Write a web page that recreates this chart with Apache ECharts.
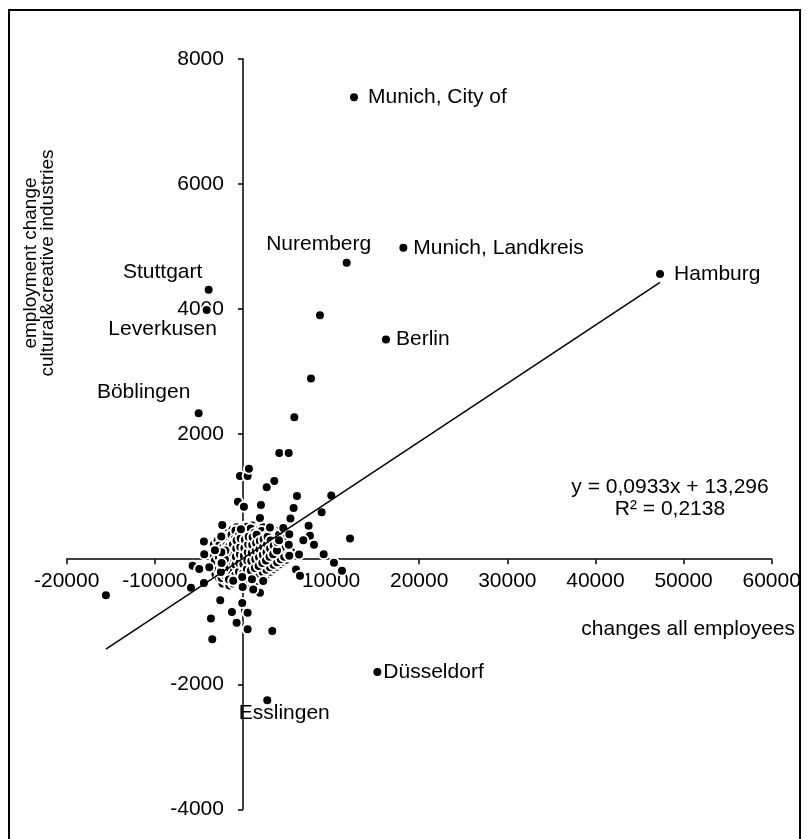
<!DOCTYPE html>
<html>
<head>
<meta charset="utf-8">
<title>employment change</title>
<script src="https://cdn.jsdelivr.net/npm/echarts@6/dist/echarts.min.js"></script>
<style>
  html, body { margin: 0; padding: 0; background: #fff; }
  #chart { width: 807px; height: 839px; }
</style>
</head>
<body>
<div id="chart"></div>
<script>
// axis ticks
const xTicks = { min: -20000, max: 60000, step: 10000 };
const yTicks = { min: -4000, max: 8000, step: 2000 };

// districts with a name on the chart: [x, y]
const cityNames = ["Munich, City of", "Munich, Landkreis", "Nuremberg", "Hamburg", "Stuttgart",
  "Leverkusen", "Berlin", "Böblingen", "Düsseldorf", "Esslingen"];
const cityValues = [[12600, 7390], [18200, 4980], [11770, 4740], [47330, 4560], [-3890, 4310],
  [-4120, 3985], [16230, 3515], [-5030, 2335], [15250, -1805], [2760, -2255]];

// the other districts: [changes all employees, employment change CCI]
const otherValues = [
  [8740, 3900], [7720, 2890], [5830, 2270], [4120, 1700], [5190, 1700], [-340, 1330], [530, 1330],
  [680, 1445], [3555, 1250], [2690, 1150], [6130, 1010], [10020, 1020], [-570, 920], [110, 840],
  [2040, 865], [1930, 660], [5750, 820], [8930, 750], [5390, 650], [-2350, 545], [-230, 480],
  [3065, 505], [4580, 500], [7450, 535], [7600, 375], [6850, 305], [5260, 400], [-2460, 365],
  [-4430, 285], [12150, 330], [8060, 230], [4090, 305], [-3180, 145], [-4390, 80], [6360, 75],
  [5260, 55], [9160, 80], [10330, -55], [11240, -185], [-5710, -105], [-4960, -155], [-3820, -130],
  [-4430, -380], [-5900, -455], [-2500, -205], [-2420, -60], [-1590, -325], [-1100, -345], [-80, -285],
  [1020, -320], [2300, -350], [1930, -535], [1170, -485], [-30, -445], [6020, -165], [6470, -265],
  [-2575, -655], [-1250, -845], [-720, -1015], [570, -1110], [230, -815], [-80, -700], [-3750, -940],
  [-3480, -1280], [3330, -1150], [530, -855], [530, -1120], [-3630, -950], [-15550, -575]
];

// the crowded middle, read roughly
const clusterValues = [
  [-3450, -120], [-3380, 60], [-3300, 230], [-3120, -240], [-3050, -70], [-2960, 130], [-2880, 300],
  [-2710, -300], [-2640, -160], [-2590, 30], [-2530, 190], [-2470, 340], [-2330, -390], [-2260, -230],
  [-2190, -80], [-2140, 80], [-2080, 250], [-2010, 410], [-1930, -340], [-1870, -190], [-1800, -30],
  [-1760, 130], [-1690, 300], [-1620, 440], [-1540, -420], [-1480, -260], [-1420, -110], [-1370, 40],
  [-1310, 170], [-1250, 320], [-1190, 470], [-1110, -390], [-1060, -280], [-990, -150], [-940, -20],
  [-880, 110], [-830, 260], [-770, 390], [-720, 510], [-650, -370], [-600, -240], [-540, -90],
  [-490, 40], [-430, 180], [-380, 310], [-310, 440], [-250, -410], [-190, -260], [-140, -120],
  [-90, 20], [-30, 140], [40, 280], [90, 400], [150, 520], [210, -360], [270, -200], [330, -70],
  [380, 60], [440, 200], [500, 330], [560, 460], [620, -390], [680, -250], [730, -110], [790, 30],
  [850, 160], [900, 300], [960, 420], [1030, 540], [1090, -330], [1150, -190], [1210, -40], [1260, 90],
  [1320, 220], [1380, 350], [1440, 480], [1500, -350], [1560, -200], [1620, -70], [1680, 60],
  [1740, 190], [1800, 330], [1860, 470], [1920, -300], [1990, -160], [2050, -10], [2110, 110],
  [2170, 250], [2230, 390], [2290, 510], [2350, -280], [2410, -130], [2470, 20], [2530, 150],
  [2590, 290], [2650, 430], [2720, -240], [2790, -90], [2850, 50], [2910, 190], [2970, 330],
  [3040, 470], [3110, -200], [3180, -50], [3240, 100], [3300, 240], [3370, 380], [3450, -160],
  [3520, -10], [3590, 140], [3660, 280], [3730, 430], [3820, -120], [3900, 30], [3970, 170],
  [4040, 320], [4110, 460], [4220, -80], [4300, 70], [4380, 210], [4450, 360], [4560, -40],
  [4640, 110], [4720, 250], [4800, 400], [4930, -10], [5010, 140], [5090, 290], [5250, 40],
  [5340, 190], [5480, 120],
  [-3200, -30], [-3150, 150], [-2800, -170], [-2750, 40], [-2700, 220], [-2420, -300], [-2380, -130],
  [-2300, 60], [-2230, 190], [-2000, -260], [-1960, -100], [-1900, 60], [-1850, 220], [-1800, 360],
  [-1580, -330], [-1520, -180], [-1460, -30], [-1400, 110], [-1350, 250], [-1290, 390], [-1150, -300],
  [-1090, -70], [-1030, 60], [-970, 190], [-910, 330], [-850, 460], [-700, -300], [-660, -160],
  [-620, -20], [-560, 110], [-510, 250], [-460, 380], [-300, -330], [-240, -180], [-180, -50],
  [-120, 80], [-70, 210], [-10, 340], [60, 460], [120, -290], [180, -140], [240, 0], [300, 130],
  [350, 270], [410, 400], [470, 520], [560, -320], [610, -170], [660, -40], [710, 100], [770, 230],
  [820, 360], [880, 490], [1000, -260], [1060, -120], [1110, 20], [1170, 150], [1230, 290], [1290, 420],
  [1420, -280], [1470, -140], [1530, 0], [1590, 130], [1650, 260], [1710, 400], [1830, -230],
  [1880, -90], [1940, 50], [2000, 180], [2060, 320], [2120, 450], [2260, -210], [2320, -60],
  [2380, 80], [2440, 220], [2500, 360], [2660, -170], [2720, -20], [2780, 120], [2840, 260],
  [2900, 400], [3060, -130], [3120, 20], [3180, 170], [3250, 310], [3310, 440], [3480, -90],
  [3550, 60], [3620, 210], [3690, 350], [3880, -50], [3950, 100], [4020, 240], [4090, 390],
  [4290, 0], [4360, 140], [4430, 290], [4680, 40], [4750, 180], [4850, 330], [5150, 80], [5200, 230],
  [-1700, -90], [-1650, 70], [-1600, 200], [-1300, -200], [-1250, -40], [-1200, 90], [-1150, 230],
  [-900, -260], [-850, -90], [-800, 40], [-760, 170], [-720, 300], [-450, -200], [-400, -60],
  [-350, 80], [-300, 200], [-260, 330], [0, -230], [50, -80], [100, 50], [160, 180], [220, 310],
  [450, -160], [500, -20], [550, 110], [600, 240], [650, 360], [900, -180], [950, -30], [1000, 100],
  [1050, 230], [1100, 350], [1350, -140], [1400, 0], [1450, 130], [1500, 260], [1550, 390],
  [1780, -110], [1830, 30], [1880, 160], [1920, 290], [2200, -60], [2250, 70], [2300, 200],
  [2350, 320], [2620, -20], [2680, 110], [2740, 240], [2800, 360], [3020, 40], [3080, 170],
  [3140, 300], [3430, 80], [3490, 220], [3860, 140], [3920, 270], [-2100, -150], [-2050, 0],
  [-2000, 140], [-2500, -60], [-2450, 110]
];

// linear trend (Excel)
const trendSlope = 0.0933;
const trendIntercept = 13.296;
const trendText = ["y = 0,0933x + 13,296", "R² = 0,2138"];

const font = "'Liberation Sans', Arial, sans-serif";

// label placement for each named district
const labelPlace = {
  "Munich, City of": { position: "right", distance: 8 },
  "Munich, Landkreis": { position: "right", distance: 4 },
  "Nuremberg": { position: "inside", offset: [-28, -19] },
  "Hamburg": { position: "right", distance: 8 },
  "Stuttgart": { position: "inside", offset: [-46, -18] },
  "Leverkusen": { position: "inside", offset: [-44, 19] },
  "Berlin": { position: "right", distance: 4 },
  "Böblingen": { position: "inside", offset: [-55, -21] },
  "Düsseldorf": { position: "right", distance: 0 },
  "Esslingen": { position: "inside", offset: [17, 13] },
};

const allX = cityValues.concat(otherValues, clusterValues).map((p) => p[0]);
const xLo = Math.min(...allX);
const xHi = Math.max(...allX);
const trendData = [xLo, xHi].map((x) => [x, trendSlope * x + trendIntercept]);

const cityData = cityNames.map((name, i) => ({
  name: name,
  value: cityValues[i],
  label: Object.assign({ show: true, formatter: name, color: "#000", fontSize: 21, fontFamily: font }, labelPlace[name]),
}));

// black dot with a white rim, like the Excel marker
const dotStyle = { color: "#000", borderColor: "#fff", borderWidth: 2, opacity: 1 };

// grid box; the axes are shifted onto the zero lines with offset
const gridLeft = 66.7, gridRight = 35.3, gridTop = 59, gridBottom = 29.7;
const plotW = 807 - gridLeft - gridRight;
const plotH = 839 - gridTop - gridBottom;
const yAxisShift = plotW * (0 - xTicks.min) / (xTicks.max - xTicks.min);
const xAxisShift = plotH * (0 - yTicks.min) / (yTicks.max - yTicks.min);

const chart = echarts.init(document.getElementById("chart"));
chart.setOption({
  animation: false,
  backgroundColor: "#fff",
  grid: { left: gridLeft, right: gridRight, top: gridTop, bottom: gridBottom, outerBoundsMode: "none" },
  xAxis: {
    type: "value",
    min: xTicks.min,
    max: xTicks.max,
    interval: xTicks.step,
    offset: -xAxisShift,
    splitLine: { show: false },
    axisLine: { onZero: false, lineStyle: { color: "#000", width: 1.5 } },
    axisTick: { show: true, length: 5, lineStyle: { color: "#000", width: 1.5 } },
    axisLabel: { color: "#000", fontSize: 21, fontFamily: font, margin: 12, formatter: (v) => String(v) },
  },
  yAxis: {
    type: "value",
    min: yTicks.min,
    max: yTicks.max,
    interval: yTicks.step,
    offset: -yAxisShift,
    splitLine: { show: false },
    axisLine: { onZero: false, lineStyle: { color: "#000", width: 1.5 } },
    axisTick: { show: true, length: 5, lineStyle: { color: "#000", width: 1.5 } },
    axisLabel: { color: "#000", fontSize: 21, fontFamily: font, margin: 19, formatter: (v) => String(v) },
  },
  series: [
    {
      type: "scatter",
      symbolSize: 10,
      itemStyle: dotStyle,
      data: clusterValues.concat(otherValues),
      z: 3,
    },
    {
      type: "line",
      data: trendData,
      symbol: "none",
      lineStyle: { color: "#000", width: 1.5 },
      z: 4,
    },
    {
      type: "scatter",
      symbolSize: 10,
      itemStyle: dotStyle,
      data: cityData,
      z: 5,
    },
  ],
  graphic: [
    // outer frame
    {
      type: "polyline",
      shape: { points: [[9, 839], [9, 10], [800, 10], [800, 839]] },
      style: { stroke: "#000", lineWidth: 2, fill: null },
    },
    // y axis title, two lines
    {
      type: "text",
      x: 31, y: 263, rotation: Math.PI / 2,
      style: { text: "employment change", font: "19px " + font, fill: "#000", align: "center", verticalAlign: "middle" },
    },
    {
      type: "text",
      x: 48, y: 263, rotation: Math.PI / 2,
      style: { text: "cultural&creative industries", font: "19px " + font, fill: "#000", align: "center", verticalAlign: "middle" },
    },
    // x axis title
    {
      type: "text",
      x: 795, y: 629,
      style: { text: "changes all employees", font: "21px " + font, fill: "#000", align: "right", verticalAlign: "middle" },
    },
    // trend equation
    {
      type: "text",
      x: 670, y: 487,
      style: { text: trendText[0], font: "21px " + font, fill: "#000", align: "center", verticalAlign: "middle" },
    },
    {
      type: "text",
      x: 670, y: 509,
      style: { text: trendText[1], font: "21px " + font, fill: "#000", align: "center", verticalAlign: "middle" },
    },
  ],
});
</script>
</body>
</html>
